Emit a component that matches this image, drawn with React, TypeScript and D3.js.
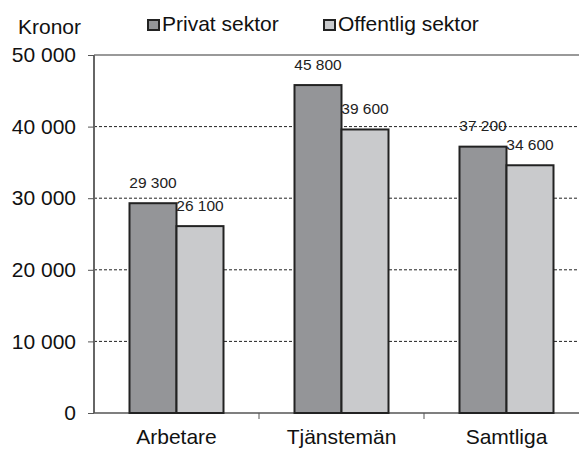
import * as d3 from "d3";
import React, { useEffect, useRef } from "react";

const categories = ["Arbetare", "Tjänstemän", "Samtliga"];
const seriesNames = ["Privat sektor", "Offentlig sektor"];
const privat = [29300, 45800, 37200];
const offentlig = [26100, 39600, 34600];
const yTicks = [0, 10000, 20000, 30000, 40000, 50000];

const colors = ["#949598", "#c9cacc"];

export default function App() {
  const ref = useRef<SVGSVGElement>(null);

  useEffect(() => {
    const svg = d3.select(ref.current);
    svg.selectAll("*").remove();

    const width = 579,
      height = 449;
    const left = 94,
      top = 55,
      bottom = 413,
      right = 589;
    const font = "'Liberation Sans', Arial, sans-serif";

    const x0 = d3.scaleBand().domain(categories).range([left, right]);
    const x1 = d3.scaleBand().domain(seriesNames).range([35.5, 129.5]);
    const y = d3.scaleLinear().domain([0, 50000]).range([bottom, top]);
    const fmt = (v: number) => d3.format(",")(v).replace(/,/g, " ");

    svg.attr("width", width).attr("height", height);

    // stödlinjer
    svg.append("g")
      .selectAll("line")
      .data(yTicks.filter((t) => t > 0 && t < 50000))
      .enter()
      .append("line")
      .attr("x1", left)
      .attr("x2", width)
      .attr("y1", (d) => y(d))
      .attr("y2", (d) => y(d))
      .attr("stroke", "#222")
      .attr("stroke-width", 1)
      .attr("stroke-dasharray", "3,2");

    svg.append("line")
      .attr("x1", left)
      .attr("x2", width)
      .attr("y1", y(50000))
      .attr("y2", y(50000))
      .attr("stroke", "#999")
      .attr("stroke-width", 2);

    // y-axel
    const yAxis = d3.axisLeft(y).tickValues(yTicks).tickSize(6).tickFormat((d) => fmt(d as number));
    const gy = svg.append("g").attr("transform", "translate(" + left + ",0)").call(yAxis);
    gy.select(".domain").attr("stroke", "#666").attr("stroke-width", 2).attr("d", "M0," + top + "V" + bottom);
    gy.selectAll(".tick line").attr("stroke", "#555");
    gy.selectAll("text")
      .attr("font-family", font)
      .attr("font-size", "21px")
      .attr("fill", "#111")
      .attr("x", -18);

    // x-axel
    svg.append("line")
      .attr("x1", left)
      .attr("x2", width)
      .attr("y1", bottom)
      .attr("y2", bottom)
      .attr("stroke", "#555")
      .attr("stroke-width", 1.5);
    svg.append("g")
      .selectAll("line")
      .data(categories)
      .enter()
      .append("line")
      .attr("x1", (d) => (x0(d) as number) + x0.bandwidth())
      .attr("x2", (d) => (x0(d) as number) + x0.bandwidth())
      .attr("y1", bottom)
      .attr("y2", bottom + 6)
      .attr("stroke", "#555");
    svg.append("g")
      .selectAll("text")
      .data(categories)
      .enter()
      .append("text")
      .attr("x", (d) => (x0(d) as number) + x0.bandwidth() / 2)
      .attr("y", 444)
      .attr("text-anchor", "middle")
      .attr("font-family", font)
      .attr("font-size", "21px")
      .attr("fill", "#111")
      .text((d) => d);

    // staplar
    const rows = categories.map((c, i) => ({ cat: c, values: [privat[i], offentlig[i]] }));
    const group = svg.selectAll(".grp")
      .data(rows)
      .enter()
      .append("g")
      .attr("class", "grp")
      .attr("transform", (d) => "translate(" + x0(d.cat) + ",0)");

    group.selectAll("rect")
      .data((d) => d.values.map((v, j) => ({ name: seriesNames[j], v, j })))
      .enter()
      .append("rect")
      .attr("x", (d) => x1(d.name) as number)
      .attr("y", (d) => y(d.v))
      .attr("width", x1.bandwidth())
      .attr("height", (d) => bottom - y(d.v))
      .attr("fill", (d) => colors[d.j])
      .attr("stroke", "#222")
      .attr("stroke-width", 2);

    group.selectAll("text")
      .data((d) => d.values.map((v, j) => ({ name: seriesNames[j], v, j })))
      .enter()
      .append("text")
      .attr("x", (d) => (x1(d.name) as number) + x1.bandwidth() / 2)
      .attr("y", (d) => y(d.v) - 15.5)
      .attr("text-anchor", "middle")
      .attr("font-family", font)
      .attr("font-size", "15.5px")
      .attr("fill", "#222")
      .text((d) => fmt(d.v));

    // rubrik och legend
    svg.append("text")
      .attr("x", 18)
      .attr("y", 34)
      .attr("font-family", font)
      .attr("font-size", "21px")
      .attr("fill", "#111")
      .text("Kronor");

    const legendX = [147, 323];
    seriesNames.forEach((name, i) => {
      svg.append("rect")
        .attr("x", legendX[i] + 1)
        .attr("y", 20)
        .attr("width", 11)
        .attr("height", 10)
        .attr("fill", colors[i])
        .attr("stroke", "#222")
        .attr("stroke-width", 2);
      svg.append("text")
        .attr("x", legendX[i] + 15)
        .attr("y", 31)
        .attr("font-family", font)
        .attr("font-size", "21px")
        .attr("fill", "#111")
        .text(name);
    });
  }, []);

  return (
    <div style={{ position: "absolute", left: 0, top: 0 }}>
      <svg ref={ref} style={{ display: "block" }}></svg>
    </div>
  );
}
